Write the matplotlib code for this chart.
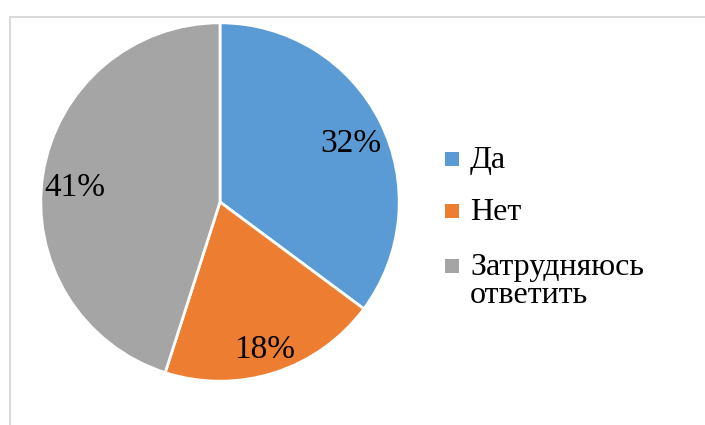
import matplotlib.pyplot as plt
from matplotlib.patches import Rectangle
from matplotlib.transforms import offset_copy

labels = ['Да', 'Нет', 'Затрудняюсь\nответить']
values = [32, 18, 41]
colors = ['#5B9BD5', '#ED7D31', '#A5A5A5']

W, H = 705, 425
fig = plt.figure(figsize=(W / 100, H / 100), dpi=100)
plt.rcParams['font.family'] = ['Liberation Serif', 'DejaVu Serif']

# рамка области диаграммы
fig.patches.append(Rectangle((10 / W, -0.1), 1.2, (H - 17) / H + 0.1,
                             transform=fig.transFigure, fill=False,
                             edgecolor='#d9d9d9', linewidth=1.5))

# пирог
cx, cy, r = 220, 202, 181
ax = fig.add_axes([(cx - r) / W, (H - cy - r) / H, 2 * r / W, 2 * r / H])
total = sum(values)
wedges, texts, autotexts = ax.pie(
    values, colors=colors, startangle=90, counterclock=False, radius=1,
    autopct=lambda p: f'{p * total / 100:.0f}%', pctdistance=0.82,
    wedgeprops=dict(edgecolor='white', linewidth=2),
    textprops=dict(fontsize=24, color='black'))
for t in autotexts:
    t.set_transform(offset_copy(t.get_transform(), fig, y=-8, units='dots'))
ax.set_xlim(-1.01, 1.01)
ax.set_ylim(-1.01, 1.01)
ax.set_aspect('equal')
ax.axis('off')

# легенда
sq = 14
baselines = [168, 220, 275]
for lab, col, yb in zip(labels, colors, baselines):
    fig.patches.append(Rectangle((445 / W, (H - yb + 2) / H), sq / W, sq / H,
                                 transform=fig.transFigure, facecolor=col,
                                 edgecolor='none'))
    lines = lab.split('\n')
    for i, ln in enumerate(lines):
        fig.text(470 / W, (H - yb - i * 28) / H, ln, fontsize=23,
                 va='baseline', ha='left')

fig.savefig('out.png', dpi=100, facecolor='white')
